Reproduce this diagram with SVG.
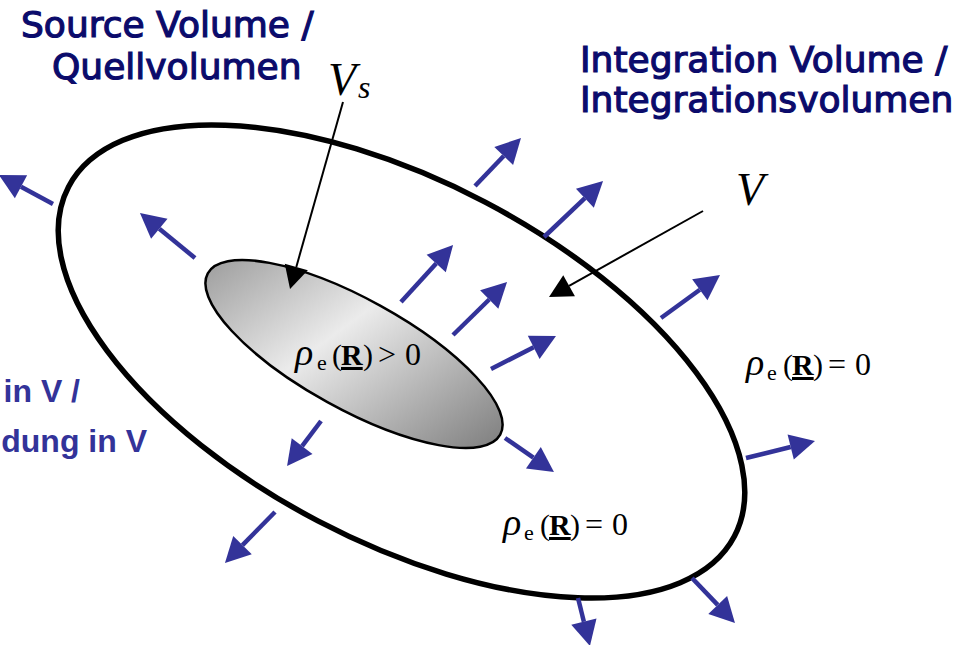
<svg xmlns="http://www.w3.org/2000/svg" width="972" height="645" viewBox="0 0 972 645">
  <style>
    .title { font-family: "DejaVu Sans", Verdana, sans-serif; font-size: 36px; fill: #0b0b6b; stroke: #0b0b6b; stroke-width: 1.2px; }
    .side { font-family: "Liberation Sans", Arial, sans-serif; font-weight: bold; font-size: 32px; fill: #333399; }
    .math { font-family: "Liberation Serif", "Times New Roman", serif; font-size: 30px; fill: #000; }
    .it { font-style: italic; }
    .rho { font-style: italic; font-size: 38px; }
    .sub { font-size: 22px; }
    .op { font-size: 32px; }
    .vec { font-weight: bold; text-decoration: underline; }
    .flux { stroke: #333399; stroke-width: 4.5; fill: none; marker-end: url(#blueHead); }
    .lead { stroke: #000; stroke-width: 2; fill: none; marker-end: url(#blackHead); }
  </style>
  <defs>
    <marker id="blueHead" markerUnits="userSpaceOnUse" viewBox="0 -13 26 26" refX="0" refY="0" markerWidth="26" markerHeight="26" orient="auto" overflow="visible">
      <path d="M0,-13 L25,0 L0,13 Z" fill="#333399"/>
    </marker>
    <marker id="blackHead" markerUnits="userSpaceOnUse" viewBox="0 -12 24 24" refX="0" refY="0" markerWidth="24" markerHeight="24" orient="auto" overflow="visible">
      <path d="M0,-12 L23,0 L0,12 Z" fill="#000"/>
    </marker>
    <linearGradient id="srcFill" gradientUnits="userSpaceOnUse" x1="205" y1="283" x2="503" y2="420">
      <stop offset="0" stop-color="#9c9c9c"/>
      <stop offset="0.42" stop-color="#ebebeb"/>
      <stop offset="1" stop-color="#7e7e7e"/>
    </linearGradient>
  </defs>

  <g id="integration-volume">
    <ellipse cx="401.5" cy="361.5" rx="376" ry="180" transform="rotate(27.7 401.5 361.5)" fill="none" stroke="#000" stroke-width="5.5"/>
  </g>

  <g id="source-volume">
    <ellipse cx="354" cy="354" rx="167" ry="55" transform="rotate(28.9 354 354)" fill="url(#srcFill)" stroke="#000" stroke-width="2.5"/>
  </g>

  <g id="connectors">
    <line class="flux" x1="53" y1="204" x2="21" y2="186.8"/>
    <line class="flux" x1="195" y1="258" x2="159.3" y2="228.8"/>
    <line class="flux" x1="475" y1="186" x2="503.7" y2="156"/>
    <line class="flux" x1="544" y1="237" x2="584.9" y2="198.2"/>
    <line class="flux" x1="401" y1="302" x2="436.2" y2="263.5"/>
    <line class="flux" x1="453" y1="335" x2="489.2" y2="299.5"/>
    <line class="flux" x1="491" y1="369" x2="533.7" y2="347.3"/>
    <line class="flux" x1="661" y1="318" x2="699.8" y2="289.7"/>
    <line class="flux" x1="321" y1="421" x2="302.1" y2="446.1"/>
    <line class="flux" x1="505" y1="438" x2="533.4" y2="457.7"/>
    <line class="flux" x1="746" y1="458" x2="790.7" y2="447"/>
    <line class="flux" x1="275" y1="512" x2="242.5" y2="545.1"/>
    <line class="flux" x1="578" y1="598" x2="583.9" y2="621.7"/>
    <line class="flux" x1="692" y1="578" x2="717.7" y2="604.9"/>
    <line class="lead" x1="343" y1="102" x2="296.3" y2="266.9"/>
    <line class="lead" x1="703" y1="211" x2="569.1" y2="285.8"/>
  </g>

  <g id="label-source">
    <text class="title" x="21" y="37">Source Volume /</text>
    <text class="title" x="52" y="79">Quellvolumen</text>
  </g>

  <g id="label-integration">
    <text class="title" x="580" y="72">Integration Volume /</text>
    <text class="title" x="580" y="112">Integrationsvolumen</text>
  </g>

  <g id="label-side">
    <text class="side" x="80" y="402" text-anchor="end">in V /</text>
    <text class="side" x="147" y="452" text-anchor="end">dung in V</text>
  </g>

  <g id="label-vs">
    <text class="math it" x="328" y="95" style="font-size:46px">V</text>
    <text class="math it" x="358" y="98" style="font-size:32px">s</text>
  </g>

  <g id="label-v">
    <text class="math it" x="736" y="205" style="font-size:46px">V</text>
  </g>

  <g id="rho-inside">
    <text class="math"><tspan class="rho" x="295" y="365">ρ</tspan><tspan class="sub" x="317" y="370">e</tspan><tspan x="332" y="365">(</tspan><tspan class="vec" x="341" y="365">R</tspan><tspan x="363" y="365">)</tspan><tspan class="op" x="378" y="365">&gt;</tspan><tspan class="op" x="405" y="365">0</tspan></text>
  </g>

  <g id="rho-outside">
    <text class="math"><tspan class="rho" x="746" y="375">ρ</tspan><tspan class="sub" x="767" y="380">e</tspan><tspan x="783" y="375">(</tspan><tspan class="vec" x="792" y="375">R</tspan><tspan x="813" y="375">)</tspan><tspan class="op" x="828" y="375">=</tspan><tspan class="op" x="855" y="375">0</tspan></text>
  </g>

  <g id="rho-between">
    <text class="math"><tspan class="rho" x="503" y="535">ρ</tspan><tspan class="sub" x="524" y="540">e</tspan><tspan x="540" y="535">(</tspan><tspan class="vec" x="549" y="535">R</tspan><tspan x="570" y="535">)</tspan><tspan class="op" x="585" y="535">=</tspan><tspan class="op" x="612" y="535">0</tspan></text>
  </g>
</svg>
